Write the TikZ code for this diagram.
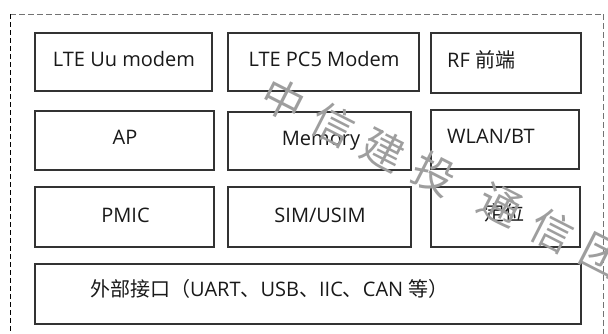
\documentclass[tikz,border=0pt]{standalone}
\usepackage{fontspec}
\setmainfont{Open Sans}
\newfontfamily\cjk{Noto Sans CJK SC}
\begin{document}
\begin{tikzpicture}[x=1bp,y=-1bp,
  box/.style={draw=black!80,line width=1.1bp,rectangle,inner sep=0pt,outer sep=0pt},
  txt/.style={inner sep=0pt,anchor=base,font=\fontsize{20bp}{24bp}\selectfont,text=black!90},
  txtl/.style={txt,anchor=base west},
  wm/.style={inner sep=0pt,rotate=-27,font=\cjk\fontsize{42bp}{46bp}\selectfont,text=black!38}]
\useasboundingbox (0,0) rectangle (608,333);
\begin{scope}
\clip (0,0) rectangle (608,333);
% outer dashed frame
\coordinate (tl) at (10,14);
\coordinate (tr) at (603,14);
\coordinate (bl) at (10,345);
\coordinate (br) at (603,345);
\draw[black!55,line width=1bp,dash pattern=on 6bp off 3bp] (tl) -- (tr);
\draw[black!55,line width=0.9bp,dash pattern=on 6bp off 3bp] (tr) -- (br);
\draw[black,line width=0.9bp,dash pattern=on 5bp off 3bp] (tl) -- (bl);

% boxes
\node[box,minimum width=177bp,minimum height=58bp] (uu) at (123.5,62) {};
\node[box,minimum width=191bp,minimum height=58bp] (pc5) at (323.5,62) {};
\node[box,minimum width=150bp,minimum height=60bp] (rf) at (506,63) {};
\node[box,minimum width=179bp,minimum height=59bp] (ap) at (124.5,140.5) {};
\node[box,minimum width=183bp,minimum height=58bp] (mem) at (319.5,141) {};
\node[box,minimum width=148bp,minimum height=59bp] (wlan) at (505,139.5) {};
\node[box,minimum width=179bp,minimum height=60bp] (pmic) at (124.5,217) {};
\node[box,minimum width=183bp,minimum height=60bp] (sim) at (319.5,217) {};
\node[box,minimum width=149bp,minimum height=60bp] (dw) at (505.5,217) {};
\node[box,minimum width=546bp,minimum height=60bp] (ext) at (308,294) {};

% texts
\node[txt] (uut) at (124,66.5) {LTE Uu modem};
\node[txt] (pc5t) at (324,66.5) {LTE PC5 Modem};
\node[txtl] (rft) at (447,67.5) {RF\hspace{6bp}{\cjk 前端}};
\node[txt] (apt) at (125,144) {AP};
\node[txt] (memt) at (321,145) {Memory};
\node[txtl] (wlant) at (447,143) {WLAN/BT};
\node[txt] (pmict) at (125.5,222) {PMIC};
\node[txt] (simt) at (320,222) {SIM/USIM};
\node[txtl] (dwt) at (484,220) {\cjk 定位};
\node[txtl] (extt) at (90,296) {{\cjk 外部接口（}UART{\cjk 、}USB{\cjk 、}IIC{\cjk 、}CAN {\cjk 等）}};

% watermark
\node[wm] (w1) at (283,100) {中};
\node[wm] (w2) at (333,125) {信};
\node[wm] (w3) at (383,150) {建};
\node[wm] (w4) at (434,174) {投};
\node[wm] (w5) at (500,205) {通};
\node[wm] (w6) at (552,231) {信};
\node[wm] (w7) at (602,256) {团};
\end{scope}
\end{tikzpicture}
\end{document}
